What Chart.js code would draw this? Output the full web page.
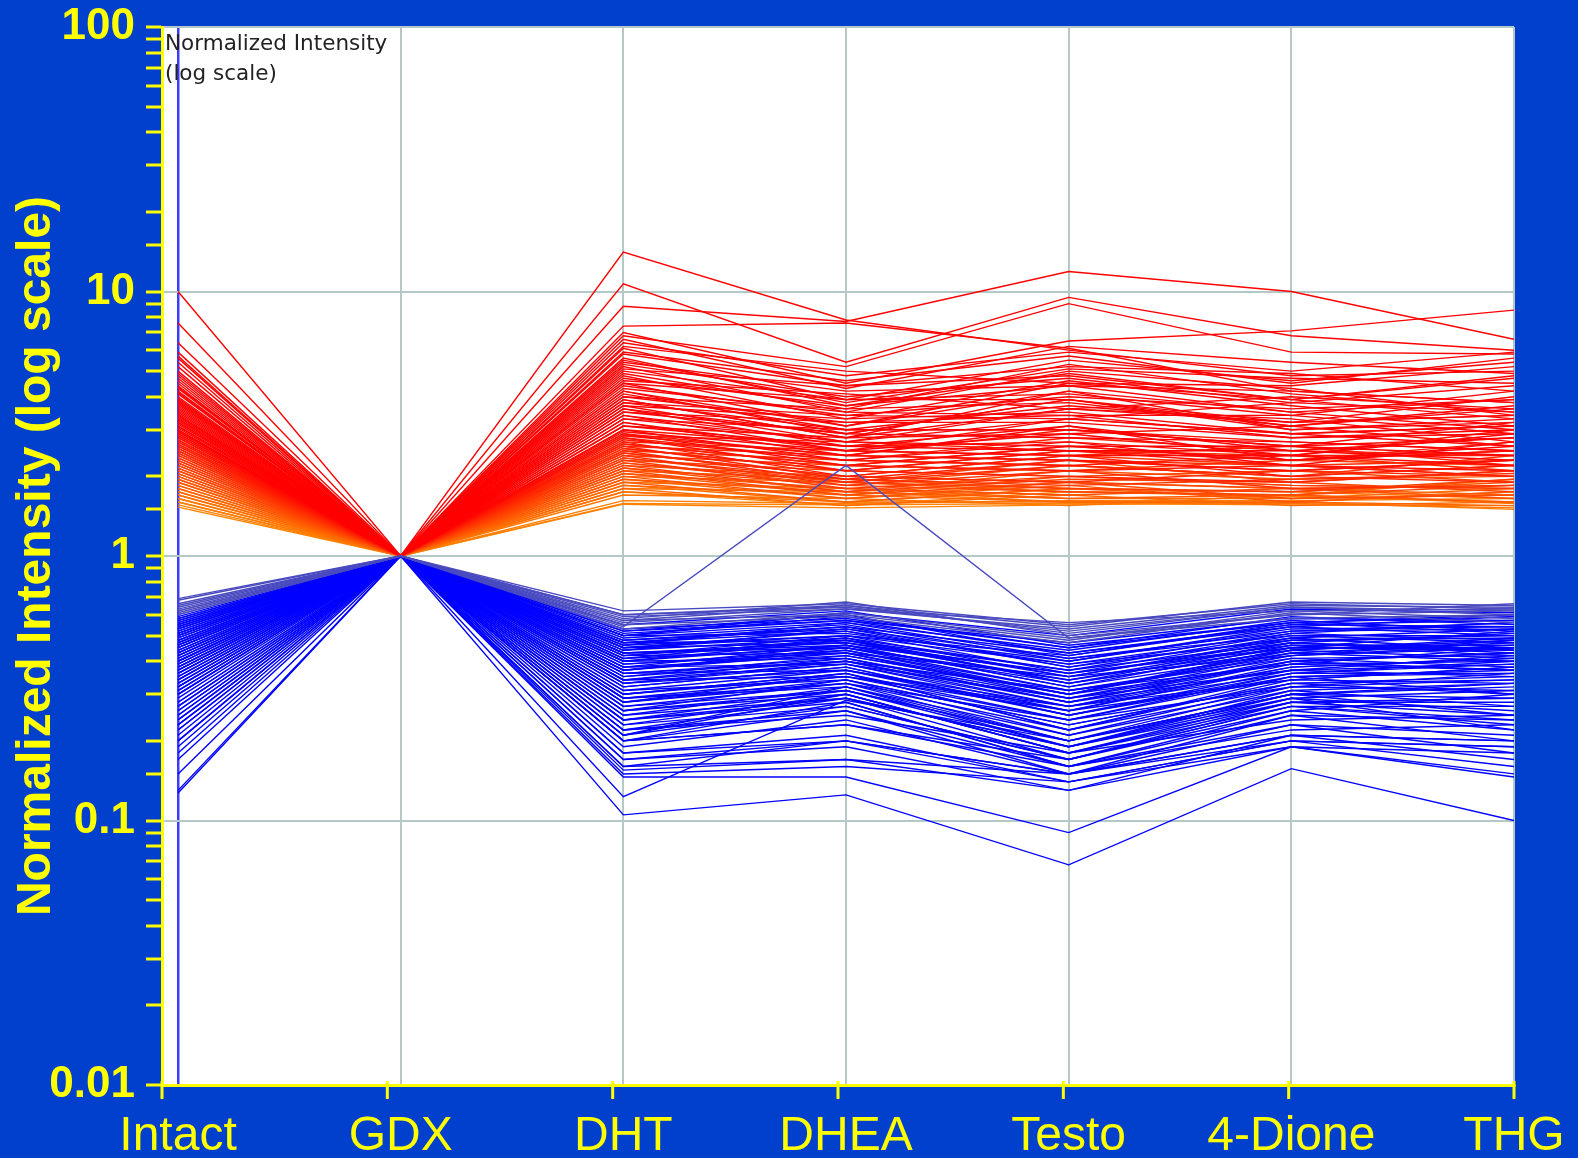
<!DOCTYPE html>
<html>
<head>
<meta charset="utf-8">
<title>Normalized Intensity</title>
<script src="https://cdn.jsdelivr.net/npm/chart.js"></script>
<style>
  html, body { margin: 0; padding: 0; background: #0040cc; overflow: hidden; }
  #wrap { width: 1578px; height: 1158px; }
</style>
</head>
<body>
<div id="wrap"><canvas id="chart"></canvas></div>
<script>
const categories = ["Intact", "GDX", "DHT", "DHEA", "Testo", "4-Dione", "THG"];
const decadeTicks = [0.01, 0.1, 1, 10, 100];

// profiles going up after GDX (red / orange), one row per compound
const upProfiles = [
  [10.0, 1, 8.8, 7.7, 11.9, 10.0, 6.6],
  [7.6, 1, 14.1, 7.8, 6.0, 4.8, 5.0],
  [6.4, 1, 10.7, 5.4, 9.5, 6.8, 6.0],
  [5.9, 1, 7.0, 4.5, 6.5, 7.1, 8.5],
  [5.7, 1, 6.8, 5.2, 9.0, 5.9, 5.8],
  [5.6, 1, 7.4, 7.6, 6.1, 4.2, 3.8],
  [5.4, 1, 6.4, 4.8, 5.9, 5.0, 5.9],
  [5.2, 1, 6.1, 3.9, 5.5, 4.6, 5.4],
  [5.0, 1, 5.8, 4.4, 5.2, 4.9, 4.2],
  [4.9, 1, 6.6, 4.3, 6.2, 5.4, 4.9],
  [4.8, 1, 5.6, 3.7, 4.9, 3.9, 4.7],
  [4.7, 1, 5.4, 4.2, 4.4, 3.5, 3.9],
  [4.6, 1, 6.2, 5.0, 4.5, 4.4, 5.2],
  [4.5, 1, 5.2, 3.5, 5.0, 4.3, 3.4],
  [4.4, 1, 5.0, 3.9, 3.9, 3.2, 4.0],
  [4.35, 1, 5.5, 3.8, 5.1, 4.7, 4.5],
  [4.3, 1, 5.9, 4.6, 5.7, 4.5, 5.6],
  [4.2, 1, 4.8, 3.3, 4.6, 3.7, 3.1],
  [4.15, 1, 5.1, 4.4, 4.8, 3.9, 4.8],
  [4.1, 1, 4.6, 4.1, 3.6, 4.0, 3.6],
  [4.0, 1, 4.5, 3.1, 4.2, 3.0, 3.3],
  [3.95, 1, 5.3, 4.0, 4.7, 3.8, 4.4],
  [3.9, 1, 4.3, 3.5, 3.4, 3.4, 2.9],
  [3.85, 1, 4.7, 3.7, 4.4, 4.2, 3.8],
  [3.8, 1, 4.2, 2.9, 3.9, 3.1, 3.7],
  [3.75, 1, 4.9, 3.6, 5.3, 4.1, 3.5],
  [3.7, 1, 4.0, 3.2, 3.2, 2.8, 3.0],
  [3.65, 1, 4.5, 3.9, 4.1, 3.4, 4.2],
  [3.6, 1, 3.9, 2.8, 3.6, 3.3, 2.7],
  [3.55, 1, 4.2, 3.1, 4.5, 3.9, 3.3],
  [3.5, 1, 3.8, 3.0, 3.0, 2.6, 3.2],
  [3.45, 1, 4.4, 3.4, 4.0, 3.6, 3.9],
  [3.4, 1, 3.7, 2.7, 3.3, 2.9, 2.6],
  [3.4, 1, 4.0, 3.6, 3.8, 3.1, 3.6],
  [3.35, 1, 3.6, 2.6, 3.1, 2.5, 2.8],
  [3.3, 1, 3.5, 2.9, 2.8, 2.7, 2.5],
  [3.3, 1, 3.9, 2.8, 4.2, 3.5, 3.0],
  [3.25, 1, 4.1, 3.0, 3.7, 3.2, 3.4],
  [3.2, 1, 3.4, 2.5, 2.9, 2.4, 2.9],
  [3.2, 1, 3.8, 3.4, 3.3, 3.8, 3.5],
  [3.15, 1, 3.7, 3.3, 3.5, 2.9, 3.1],
  [3.1, 1, 3.3, 2.7, 2.6, 2.6, 2.4],
  [3.1, 1, 3.6, 2.9, 3.9, 3.0, 3.2],
  [3.05, 1, 3.2, 2.4, 3.1, 2.3, 2.6],
  [3.0, 1, 3.1, 2.6, 2.5, 2.5, 2.3],
  [3.0, 1, 3.5, 3.2, 3.4, 2.8, 2.9],
  [2.95, 1, 3.0, 2.3, 2.7, 2.2, 2.7],
  [2.95, 1, 3.4, 2.7, 3.6, 3.2, 3.4],
  [2.9, 1, 2.95, 2.5, 2.4, 2.4, 2.2],
  [2.9, 1, 3.3, 3.0, 3.0, 2.6, 2.8],
  [2.85, 1, 2.9, 2.2, 2.6, 2.3, 2.5],
  [2.85, 1, 3.2, 2.5, 3.3, 2.9, 3.1],
  [2.8, 1, 2.85, 2.4, 2.3, 2.1, 2.3],
  [2.8, 1, 3.1, 2.8, 2.9, 3.1, 2.6],
  [2.75, 1, 2.8, 2.1, 2.5, 2.2, 2.1],
  [2.75, 1, 3.0, 2.6, 2.7, 2.4, 3.0],
  [2.7, 1, 2.75, 2.3, 2.2, 2.4, 2.4],
  [2.7, 1, 2.9, 2.4, 3.0, 2.7, 2.5],
  [2.65, 1, 2.7, 2.0, 2.4, 2.0, 2.2],
  [2.65, 1, 2.85, 2.7, 2.5, 2.3, 2.7],
  [2.6, 1, 2.65, 2.2, 2.1, 2.2, 2.0],
  [2.6, 1, 2.8, 2.3, 2.8, 2.5, 2.4],
  [2.55, 1, 2.6, 1.95, 2.3, 2.1, 2.3],
  [2.55, 1, 2.7, 2.5, 2.4, 2.6, 2.2],
  [2.5, 1, 2.55, 2.1, 2.0, 1.9, 2.1],
  [2.5, 1, 2.65, 2.2, 2.6, 2.3, 2.5],
  [2.45, 1, 2.5, 1.9, 2.2, 2.0, 1.9],
  [2.45, 1, 2.6, 2.4, 2.3, 2.2, 2.3],
  [2.4, 1, 2.45, 2.0, 1.9, 2.1, 2.0],
  [2.4, 1, 2.55, 2.1, 2.5, 2.4, 2.1],
  [2.35, 1, 2.4, 1.85, 2.1, 1.8, 1.85],
  [2.35, 1, 2.5, 2.3, 2.2, 2.0, 2.4],
  [2.3, 1, 2.35, 1.95, 1.85, 1.95, 2.05],
  [2.3, 1, 2.45, 2.0, 2.4, 2.2, 2.0],
  [2.25, 1, 2.3, 1.8, 2.0, 1.85, 1.8],
  [2.25, 1, 2.4, 2.2, 2.1, 2.3, 2.2],
  [2.2, 1, 2.25, 1.9, 1.8, 1.75, 1.95],
  [2.2, 1, 2.35, 1.9, 2.3, 1.9, 2.1],
  [2.15, 1, 2.2, 1.75, 1.95, 1.9, 1.75],
  [2.15, 1, 2.3, 2.1, 2.0, 2.1, 1.9],
  [2.1, 1, 2.15, 1.85, 1.75, 1.7, 1.85],
  [2.1, 1, 2.25, 1.85, 2.2, 2.0, 2.2],
  [2.05, 1, 2.1, 1.7, 1.9, 1.65, 1.7],
  [2.05, 1, 2.2, 2.0, 1.9, 1.8, 1.85],
  [2.0, 1, 2.05, 1.8, 1.7, 1.8, 1.65],
  [2.0, 1, 2.15, 1.75, 2.1, 1.95, 2.0],
  [1.95, 1, 2.0, 1.65, 1.85, 1.6, 1.75],
  [1.95, 1, 2.1, 1.95, 1.8, 1.75, 1.9],
  [1.9, 1, 1.95, 1.75, 1.65, 1.7, 1.6],
  [1.9, 1, 2.05, 1.7, 2.0, 1.85, 1.8],
  [1.85, 1, 1.9, 1.6, 1.8, 1.65, 1.7],
  [1.85, 1, 2.0, 1.9, 1.75, 1.7, 1.95],
  [1.8, 1, 1.85, 1.7, 1.6, 1.6, 1.55],
  [1.8, 1, 1.95, 1.65, 1.9, 1.8, 1.7],
  [1.75, 1, 1.8, 1.55, 1.7, 1.55, 1.6],
  [1.75, 1, 1.9, 1.8, 1.65, 1.65, 1.8],
  [1.7, 1, 1.75, 1.6, 1.6, 1.58, 1.52],
  [1.7, 1, 1.85, 1.6, 1.8, 1.75, 1.65],
  [1.65, 1, 1.7, 1.65, 1.55, 1.7, 1.58],
  [1.65, 1, 1.8, 1.75, 1.6, 1.6, 1.75],
  [1.6, 1, 1.62, 1.58, 1.62, 1.62, 1.65],
  [1.6, 1, 1.75, 1.55, 1.75, 1.68, 1.6],
  [1.56, 1, 1.58, 1.56, 1.58, 1.56, 1.55],
  [1.53, 1, 1.57, 1.52, 1.56, 1.6, 1.5]
];

// profiles going down after GDX (blue)
const downProfiles = [
  [0.69, 1, 0.62, 0.66, 0.55, 0.66, 0.63],
  [0.68, 1, 0.6, 0.65, 0.54, 0.67, 0.65],
  [0.66, 1, 0.6, 0.64, 0.52, 0.64, 0.62],
  [0.65, 1, 0.59, 0.63, 0.56, 0.62, 0.63],
  [0.64, 1, 0.58, 0.67, 0.5, 0.6, 0.66],
  [0.63, 1, 0.56, 0.63, 0.53, 0.65, 0.64],
  [0.62, 1, 0.54, 2.2, 0.49, 0.58, 0.6],
  [0.62, 1, 0.57, 0.65, 0.51, 0.64, 0.6],
  [0.61, 1, 0.55, 0.59, 0.47, 0.61, 0.56],
  [0.6, 1, 0.57, 0.6, 0.48, 0.62, 0.58],
  [0.6, 1, 0.53, 0.61, 0.49, 0.6, 0.62],
  [0.59, 1, 0.51, 0.57, 0.43, 0.54, 0.59],
  [0.58, 1, 0.55, 0.62, 0.46, 0.56, 0.6],
  [0.58, 1, 0.52, 0.57, 0.47, 0.58, 0.57],
  [0.57, 1, 0.53, 0.58, 0.45, 0.59, 0.55],
  [0.57, 1, 0.5, 0.61, 0.5, 0.63, 0.61],
  [0.56, 1, 0.52, 0.6, 0.42, 0.55, 0.57],
  [0.56, 1, 0.5, 0.59, 0.45, 0.56, 0.59],
  [0.55, 1, 0.5, 0.56, 0.44, 0.57, 0.52],
  [0.55, 1, 0.47, 0.52, 0.39, 0.51, 0.56],
  [0.55, 1, 0.48, 0.54, 0.43, 0.55, 0.54],
  [0.54, 1, 0.49, 0.55, 0.4, 0.53, 0.54],
  [0.54, 1, 0.46, 0.56, 0.41, 0.52, 0.56],
  [0.53, 1, 0.48, 0.53, 0.41, 0.5, 0.5],
  [0.53, 1, 0.45, 0.5, 0.42, 0.56, 0.51],
  [0.53, 1, 0.5, 0.51, 0.4, 0.54, 0.5],
  [0.52, 1, 0.47, 0.54, 0.38, 0.52, 0.53],
  [0.52, 1, 0.44, 0.53, 0.38, 0.49, 0.53],
  [0.51, 1, 0.46, 0.5, 0.39, 0.48, 0.49],
  [0.51, 1, 0.43, 0.46, 0.36, 0.45, 0.52],
  [0.51, 1, 0.47, 0.48, 0.37, 0.51, 0.48],
  [0.5, 1, 0.45, 0.52, 0.36, 0.5, 0.47],
  [0.5, 1, 0.41, 0.49, 0.33, 0.47, 0.44],
  [0.5, 1, 0.42, 0.5, 0.35, 0.48, 0.5],
  [0.49, 1, 0.44, 0.49, 0.37, 0.47, 0.51],
  [0.49, 1, 0.45, 0.47, 0.36, 0.46, 0.46],
  [0.48, 1, 0.43, 0.47, 0.34, 0.45, 0.45],
  [0.48, 1, 0.39, 0.43, 0.35, 0.42, 0.48],
  [0.48, 1, 0.4, 0.48, 0.33, 0.44, 0.49],
  [0.47, 1, 0.42, 0.48, 0.35, 0.49, 0.44],
  [0.47, 1, 0.43, 0.45, 0.34, 0.47, 0.43],
  [0.46, 1, 0.41, 0.45, 0.33, 0.44, 0.48],
  [0.46, 1, 0.37, 0.44, 0.3, 0.44, 0.41],
  [0.46, 1, 0.38, 0.46, 0.32, 0.43, 0.47],
  [0.45, 1, 0.4, 0.46, 0.32, 0.46, 0.42],
  [0.45, 1, 0.36, 0.4, 0.31, 0.39, 0.45],
  [0.45, 1, 0.42, 0.43, 0.3, 0.45, 0.44],
  [0.44, 1, 0.39, 0.44, 0.31, 0.42, 0.46],
  [0.44, 1, 0.37, 0.45, 0.31, 0.41, 0.42],
  [0.43, 1, 0.38, 0.42, 0.3, 0.43, 0.4],
  [0.43, 1, 0.34, 0.41, 0.28, 0.4, 0.37],
  [0.43, 1, 0.4, 0.41, 0.29, 0.42, 0.45],
  [0.42, 1, 0.37, 0.43, 0.29, 0.4, 0.43],
  [0.42, 1, 0.33, 0.39, 0.29, 0.37, 0.42],
  [0.42, 1, 0.35, 0.42, 0.3, 0.39, 0.4],
  [0.41, 1, 0.36, 0.41, 0.28, 0.41, 0.38],
  [0.41, 1, 0.38, 0.39, 0.27, 0.4, 0.43],
  [0.4, 1, 0.35, 0.4, 0.27, 0.38, 0.41],
  [0.4, 1, 0.31, 0.37, 0.25, 0.36, 0.36],
  [0.4, 1, 0.33, 0.4, 0.28, 0.37, 0.39],
  [0.39, 1, 0.34, 0.39, 0.26, 0.39, 0.37],
  [0.39, 1, 0.36, 0.37, 0.26, 0.38, 0.41],
  [0.38, 1, 0.33, 0.37, 0.27, 0.36, 0.39],
  [0.38, 1, 0.3, 0.35, 0.27, 0.34, 0.38],
  [0.38, 1, 0.32, 0.38, 0.25, 0.35, 0.37],
  [0.37, 1, 0.32, 0.38, 0.25, 0.37, 0.35],
  [0.37, 1, 0.29, 0.33, 0.24, 0.32, 0.34],
  [0.37, 1, 0.34, 0.35, 0.24, 0.36, 0.4],
  [0.36, 1, 0.3, 0.36, 0.24, 0.35, 0.36],
  [0.36, 1, 0.28, 0.36, 0.22, 0.35, 0.3],
  [0.36, 1, 0.31, 0.34, 0.23, 0.33, 0.35],
  [0.35, 1, 0.29, 0.35, 0.26, 0.34, 0.33],
  [0.35, 1, 0.3, 0.36, 0.22, 0.34, 0.38],
  [0.34, 1, 0.28, 0.34, 0.23, 0.33, 0.34],
  [0.34, 1, 0.26, 0.31, 0.2, 0.3, 0.32],
  [0.34, 1, 0.29, 0.32, 0.21, 0.31, 0.33],
  [0.33, 1, 0.27, 0.33, 0.22, 0.32, 0.31],
  [0.33, 1, 0.28, 0.33, 0.2, 0.32, 0.36],
  [0.32, 1, 0.26, 0.34, 0.21, 0.33, 0.3],
  [0.32, 1, 0.25, 0.29, 0.19, 0.28, 0.28],
  [0.32, 1, 0.27, 0.31, 0.2, 0.29, 0.31],
  [0.31, 1, 0.25, 0.32, 0.2, 0.3, 0.29],
  [0.31, 1, 0.24, 0.29, 0.19, 0.3, 0.33],
  [0.3, 1, 0.24, 0.31, 0.19, 0.31, 0.27],
  [0.3, 1, 0.23, 0.27, 0.17, 0.27, 0.24],
  [0.3, 1, 0.26, 0.3, 0.18, 0.28, 0.29],
  [0.29, 1, 0.23, 0.3, 0.18, 0.29, 0.26],
  [0.28, 1, 0.22, 0.29, 0.17, 0.28, 0.25],
  [0.28, 1, 0.21, 0.27, 0.17, 0.27, 0.27],
  [0.27, 1, 0.21, 0.3, 0.18, 0.27, 0.23],
  [0.27, 1, 0.24, 0.28, 0.16, 0.26, 0.3],
  [0.26, 1, 0.2, 0.28, 0.16, 0.25, 0.24],
  [0.26, 1, 0.19, 0.24, 0.15, 0.23, 0.21],
  [0.25, 1, 0.2, 0.23, 0.17, 0.26, 0.22],
  [0.25, 1, 0.22, 0.25, 0.18, 0.24, 0.25],
  [0.24, 1, 0.18, 0.2, 0.15, 0.21, 0.2],
  [0.24, 1, 0.2, 0.26, 0.16, 0.22, 0.23],
  [0.23, 1, 0.16, 0.2, 0.15, 0.2, 0.19],
  [0.23, 1, 0.18, 0.21, 0.14, 0.2, 0.19],
  [0.22, 1, 0.155, 0.17, 0.13, 0.21, 0.17],
  [0.22, 1, 0.17, 0.19, 0.13, 0.19, 0.18],
  [0.21, 1, 0.15, 0.16, 0.14, 0.2, 0.16],
  [0.2, 1, 0.105, 0.125, 0.068, 0.157, 0.1],
  [0.2, 1, 0.16, 0.17, 0.15, 0.21, 0.2],
  [0.19, 1, 0.146, 0.146, 0.09, 0.19, 0.146],
  [0.18, 1, 0.123, 0.285, 0.2, 0.3, 0.25],
  [0.17, 1, 0.2, 0.23, 0.16, 0.23, 0.18],
  [0.15, 1, 0.22, 0.26, 0.15, 0.25, 0.2],
  [0.13, 1, 0.21, 0.32, 0.19, 0.29, 0.22],
  [0.127, 1, 0.17, 0.2, 0.14, 0.19, 0.15]
];

const YELLOW = "#ffff00";
const GRID = "#b4c8c8";

const isDecade = (v) => decadeTicks.some((d) => Math.abs(v - d) < d * 1e-6);

// red for strong rises, fading to orange for the weak ones
function upColor(v) {
  const t = Math.max(0, Math.min(1, Math.log(v / 1.55) / Math.log(3.0 / 1.55)));
  return `rgb(255,${Math.round(130 * (1 - t))},0)`;
}

function toPoints(row) {
  return row.map((v, i) => ({ x: i, y: v }));
}

const datasets = [];
downProfiles.forEach((row) => {
  datasets.push({
    data: toPoints(row),
    borderColor: row[0] >= 0.6 ? "#4a4ac0" : "#0000ff",
    borderWidth: 1.4,
    pointRadius: 0,
    tension: 0,
  });
});
upProfiles.forEach((row) => {
  datasets.push({
    data: toPoints(row),
    borderColor: upColor(row[0]),
    borderWidth: 1.4,
    pointRadius: 0,
    tension: 0,
  });
});

const frame = {
  id: "frame",
  beforeDraw(chart) {
    const { ctx, chartArea: a } = chart;
    ctx.save();
    ctx.fillStyle = "#0040cc";
    ctx.fillRect(0, 0, chart.width, chart.height);
    ctx.fillStyle = "#ffffff";
    ctx.fillRect(a.left, a.top, a.right - a.left, a.bottom - a.top);
    ctx.restore();
  },
  afterDraw(chart) {
    const { ctx, chartArea: a } = chart;
    ctx.save();
    // yellow tick marks along the bottom axis
    ctx.strokeStyle = YELLOW;
    ctx.lineWidth = 3;
    const n = categories.length - 1;
    for (let i = 0; i <= n; i++) {
      const x = a.left + ((a.right - a.left) * i) / n;
      ctx.beginPath();
      ctx.moveTo(x, a.bottom - 4);
      ctx.lineTo(x, a.bottom + 14);
      ctx.stroke();
    }
    // in-plot axis caption
    ctx.fillStyle = "#222222";
    ctx.font = "21.5px 'DejaVu Sans', sans-serif";
    ctx.textBaseline = "alphabetic";
    ctx.fillText("Normalized Intensity", a.left + 3, a.top + 23);
    ctx.fillText("(log scale)", a.left + 3, a.top + 53);
    ctx.restore();
  },
};

new Chart(document.getElementById("chart"), {
  type: "line",
  data: { datasets },
  plugins: [frame],
  options: {
    responsive: true,
    maintainAspectRatio: false,
    animation: false,
    layout: { padding: { top: 27, right: 64, bottom: 0, left: 0 } },
    plugins: { legend: { display: false }, tooltip: { enabled: false } },
    scales: {
      x: {
        type: "linear",
        min: -0.072,
        max: 6,
        afterBuildTicks: (s) => { s.ticks = categories.map((_, i) => ({ value: i })); },
        afterFit: (s) => { s.height = 73; },
        ticks: {
          autoSkip: false,
          maxRotation: 0,
          padding: 9,
          color: YELLOW,
          font: { family: "'Liberation Sans', Arial, sans-serif", size: 48, lineHeight: 1.8 },
          callback: (v) => categories[v] ?? "",
        },
        grid: {
          drawTicks: false,
          color: (c) => (c.tick && c.tick.value === 0 ? "#3c3cff" : GRID),
          lineWidth: (c) => (c.tick && c.tick.value === 0 ? 2.5 : 2),
        },
        border: { color: YELLOW, width: 3 },
      },
      y: {
        type: "logarithmic",
        min: 0.01,
        max: 100,
        afterFit: (s) => { s.width = 162; },
        ticks: {
          autoSkip: false,
          padding: 11,
          color: YELLOW,
          font: { family: "'Liberation Sans', Arial, sans-serif", size: 44, weight: "bold", lineHeight: 0.7 },
          callback: (v) => (isDecade(v) ? String(v) : ""),
        },
        grid: {
          color: (c) => (c.tick && isDecade(c.tick.value) ? GRID : "rgba(0,0,0,0)"),
          lineWidth: 2,
          tickColor: YELLOW,
          tickLength: 16,
          tickWidth: 3,
        },
        border: { color: YELLOW, width: 3 },
        title: {
          display: true,
          text: "Normalized Intensity (log scale)",
          color: YELLOW,
          font: { family: "'Liberation Sans', Arial, sans-serif", size: 48, weight: "bold" },
          padding: { top: 8, bottom: 0 },
        },
      },
    },
  },
});
</script>
</body>
</html>
